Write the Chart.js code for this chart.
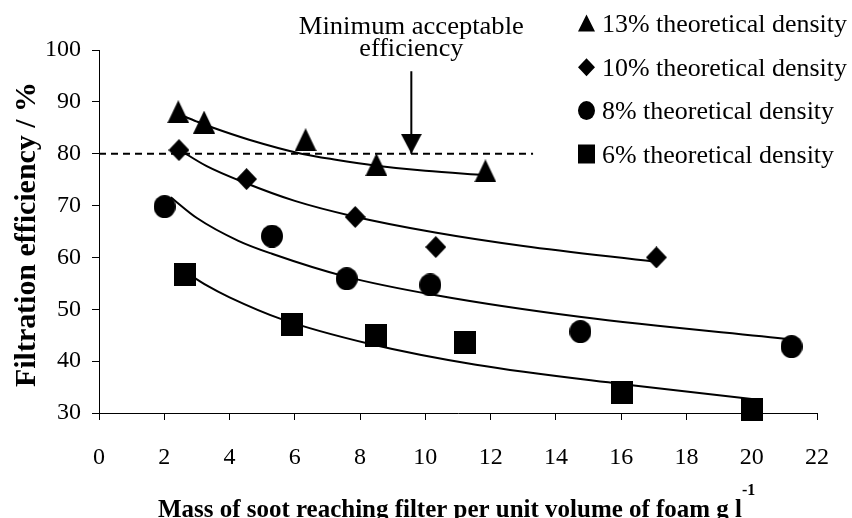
<!DOCTYPE html>
<html><head><meta charset="utf-8">
<script src="https://cdn.jsdelivr.net/npm/chart.js@4.4.0/dist/chart.umd.min.js"></script>
<style>html,body{margin:0;padding:0;background:#fff;}canvas{display:block;}
.fl{position:absolute;left:-9999px;top:0;font-family:"Liberation Serif";}</style>
</head><body>
<span class="fl">Aa1</span><span class="fl" style="font-weight:bold">Aa1</span>
<canvas id="c" width="852" height="518"></canvas>
<script>
// ---- data ----
const seriesNames = ['13% theoretical density', '10% theoretical density', '8% theoretical density', '6% theoretical density'];
const td13X = [2.43, 3.22, 6.33, 8.5, 11.84];
const td13Y = [88.1, 86.1, 82.7, 77.9, 76.7];
const td10X = [2.45, 4.52, 7.85, 10.32, 17.08];
const td10Y = [80.7, 75.1, 67.8, 62.0, 60.0];
const td8X = [2.01, 5.3, 7.59, 10.15, 14.75, 21.22];
const td8Y = [69.8, 64.1, 55.9, 54.7, 45.7, 42.8];
const td6X = [2.62, 5.9, 8.5, 11.21, 16.02, 20.02];
const td6Y = [56.7, 47.0, 44.9, 43.6, 33.9, 30.6];
// trend curves at sample points
const trend13X = [2.45, 3.0, 3.5, 4.6, 6.2, 7.3, 8.5, 10.0, 11.8];
const trend13Y = [87.6, 86.2, 85.0, 82.7, 80.0, 78.8, 77.7, 76.7, 75.9];
const trend10X = [2.45, 3.3, 4.47, 6.0, 7.81, 10.3, 13.0, 17.0];
const trend10Y = [80.8, 77.6, 74.4, 70.9, 67.9, 64.8, 62.2, 59.2];
const trend8X = [2.2, 3.0, 4.27, 5.3, 7.5, 10.33, 14.78, 21.2];
const trend8Y = [71.6, 67.6, 63.2, 60.7, 56.4, 52.7, 48.5, 44.2];
const trend6X = [2.6, 3.3, 4.0, 5.59, 8.31, 11.55, 15.99, 20.0];
const trend6Y = [57.4, 54.6, 52.3, 48.1, 43.3, 39.3, 35.6, 32.7];
// minimum acceptable efficiency line and arrow
const minEffX = [0, 13.3];
const minEffY = [80, 80];
const arrowX = [9.57, 9.57];
const arrowY = [95.9, 80];
const annotationLines = ['Minimum acceptable', 'efficiency'];
const xTitle = 'Mass of soot reaching filter per unit volume of foam g l';
const xTitleSup = '-1';
const yTitle = 'Filtration efficiency / %';

const pts = (xs, ys) => xs.map((x, i) => ({x, y: ys[i]}));
const FONT = '"Liberation Serif", "Times New Roman", Times, serif';

function pathShape(g, shape, cx, cy, w, h) {
  const l = cx - w / 2, t = cy - h / 2;
  if (shape === 'triangle') { g.moveTo(cx, t); g.lineTo(l + w, t + h); g.lineTo(l, t + h); g.closePath(); }
  else if (shape === 'diamond') { g.moveTo(cx, t); g.lineTo(l + w, cy); g.lineTo(cx, t + h); g.lineTo(l, cy); g.closePath(); }
  else if (shape === 'circle') { g.ellipse(cx, cy, w / 2, h / 2, 0, 0, Math.PI * 2); }
  else if (shape === 'square') { g.rect(l, t, w, h); }
}
function marker(shape, w, h) {
  const c = document.createElement('canvas');
  c.width = w; c.height = h;
  const g = c.getContext('2d');
  g.fillStyle = '#000';
  g.beginPath();
  pathShape(g, shape, w / 2, h / 2, w, h);
  g.fill();
  return c;
}
function arrowHead(w, hh) {
  const c = document.createElement('canvas');
  c.width = w; c.height = hh * 2;
  const g = c.getContext('2d');
  g.fillStyle = '#000';
  g.beginPath(); g.moveTo(0, 0); g.lineTo(w, 0); g.lineTo(w / 2, hh); g.closePath(); g.fill();
  return c;
}

function scatterSet(label, data, style) {
  return { type: 'scatter', label, data, pointStyle: style, pointRadius: 11, pointHoverRadius: 11,
    showLine: false, order: 0, clip: false };
}
function lineSet(data, extra) {
  return Object.assign({ type: 'line', data, borderColor: '#000', borderWidth: 2, pointRadius: 0,
    pointHoverRadius: 0, fill: false, cubicInterpolationMode: 'monotone', order: 1, clip: false }, extra || {});
}

const overlay = {
  id: 'overlay',
  afterDraw(chart) {
    const ctx = chart.ctx;
    const xs = chart.scales.x;
    ctx.save();
    ctx.fillStyle = '#000';
    ctx.textBaseline = 'alphabetic';
    function fit(text, x, y, targetW, align) {
      const w = ctx.measureText(text).width;
      const sx = targetW ? targetW / w : 1;
      ctx.save(); ctx.translate(x, y); ctx.scale(sx, 1);
      ctx.textAlign = align; ctx.fillText(text, 0, 0); ctx.restore();
      return w * sx;
    }
    // annotation text
    ctx.font = '26px ' + FONT;
    const ax = xs.getPixelForValue(arrowX[0]);
    fit(annotationLines[0], ax, 33.5, 225, 'center');
    fit(annotationLines[1], ax, 56, 104, 'center');
    // legend
    const shapes = ['triangle', 'diamond', 'circle', 'square'];
    const sizes = [[17, 17], [17, 18], [17, 19], [17, 19]];
    const baselines = [31.7, 76, 119.3, 162.7];
    ctx.font = '26px ' + FONT;
    const sx = 245 / ctx.measureText(seriesNames[0]).width;
    seriesNames.forEach((name, i) => {
      ctx.beginPath();
      pathShape(ctx, shapes[i], 586.5, baselines[i] - 8.7, sizes[i][0], sizes[i][1]);
      ctx.fill();
      ctx.save(); ctx.translate(602, baselines[i]); ctx.scale(sx, 1);
      ctx.textAlign = 'left'; ctx.fillText(name, 0, 0); ctx.restore();
    });
    // x title
    ctx.font = 'bold 26px ' + FONT;
    const w = fit(xTitle, 158, 516.5, 584, 'left');
    ctx.font = 'bold 16px ' + FONT;
    ctx.textAlign = 'left';
    ctx.fillText(xTitleSup, 158 + w, 495);
    // y title
    ctx.font = 'bold 30px ' + FONT;
    ctx.save(); ctx.translate(35, 234.5); ctx.rotate(-Math.PI / 2);
    fit(yTitle, 0, 0, 305, 'center');
    ctx.restore();
    ctx.restore();
  }
};

const axisCommon = {
  type: 'linear',
  grid: { display: true, drawOnChartArea: false, drawTicks: true, tickLength: 7, color: '#000', lineWidth: 1 },
  border: { display: true, color: '#000', width: 1 },
};

function build() {
  new Chart(document.getElementById('c'), {
    type: 'scatter',
    data: {
      datasets: [
        scatterSet(seriesNames[0], pts(td13X, td13Y), marker('triangle', 22, 23)),
        scatterSet(seriesNames[1], pts(td10X, td10Y), marker('diamond', 21, 22)),
        scatterSet(seriesNames[2], pts(td8X, td8Y), marker('circle', 22, 23)),
        scatterSet(seriesNames[3], pts(td6X, td6Y), marker('square', 22, 23)),
        lineSet(pts(trend13X, trend13Y)),
        lineSet(pts(trend10X, trend10Y)),
        lineSet(pts(trend8X, trend8Y)),
        lineSet(pts(trend6X, trend6Y)),
        lineSet(pts(minEffX, minEffY), { borderDash: [7, 5], cubicInterpolationMode: 'default', tension: 0, order: 2 }),
        lineSet(pts(arrowX, arrowY), { tension: 0, cubicInterpolationMode: 'default', order: 0,
          pointRadius: [0, 10], pointStyle: arrowHead(21, 20) }),
      ]
    },
    options: {
      responsive: false,
      animation: false,
      devicePixelRatio: 1,
      layout: { padding: { top: 50, right: 28, left: 0, bottom: 0 } },
      plugins: { legend: { display: false }, tooltip: { enabled: false }, title: { display: false } },
      events: [],
      scales: {
        x: Object.assign({}, axisCommon, {
          min: 0, max: 22,
          ticks: { stepSize: 2, color: '#000', font: { family: FONT, size: 24 }, padding: 23, maxRotation: 0 },
          afterFit: (s) => { s.height = 105; }
        }),
        y: Object.assign({}, axisCommon, {
          min: 30, max: 100,
          ticks: { stepSize: 10, color: '#000', font: { family: FONT, size: 24 }, padding: 11 },
          afterFit: (s) => { s.width = 99; }
        })
      }
    },
    plugins: [overlay]
  });
}

let built = false;
function go() { if (!built) { built = true; build(); } }
if (document.fonts && document.fonts.load) {
  Promise.all([
    document.fonts.load('24px "Liberation Serif"'),
    document.fonts.load('bold 24px "Liberation Serif"')
  ]).then(go, go);
  setTimeout(go, 1500);
} else { go(); }
</script>
</body></html>
